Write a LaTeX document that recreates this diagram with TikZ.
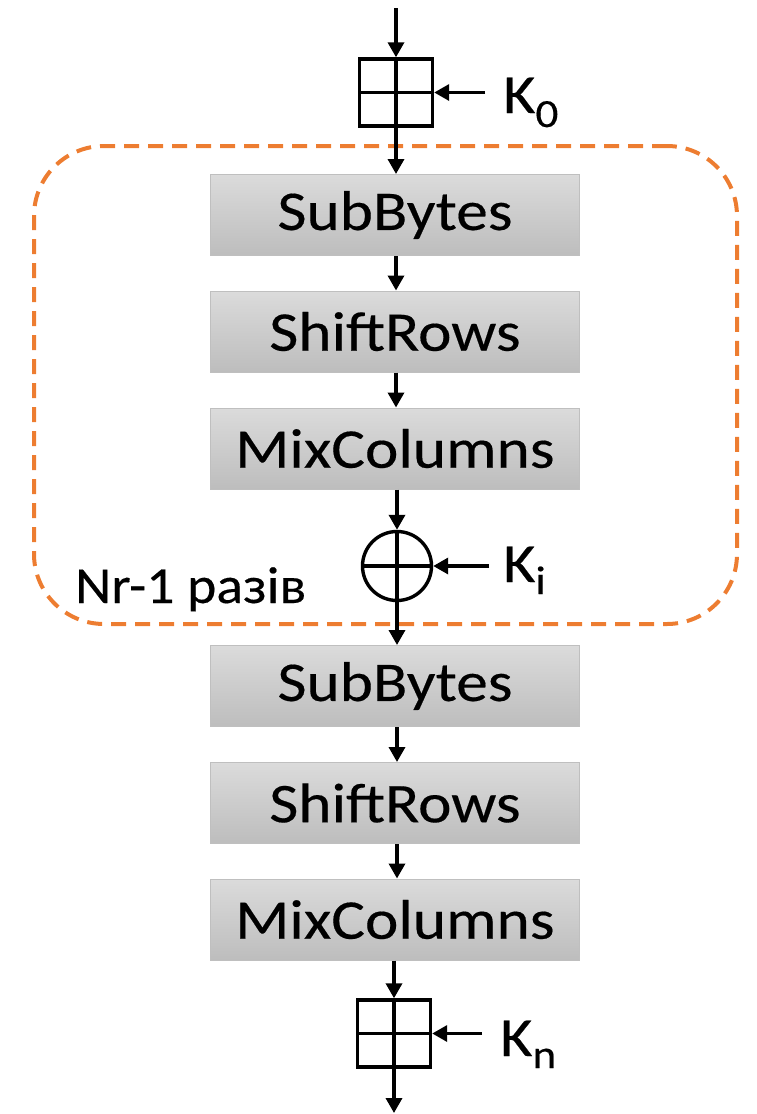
\documentclass[tikz,border=0pt]{standalone}
\usepackage{fontspec}
\setmainfont[FakeStretch=1.13,FakeBold=0.3]{Carlito}
\usetikzlibrary{arrows.meta}
\definecolor{acorange}{HTML}{ED7D31}
\definecolor{boxtop}{HTML}{DBDBDB}
\definecolor{boxbot}{HTML}{BDBDBD}
\definecolor{boxedge}{HTML}{BFBFBF}
\begin{document}
\begin{tikzpicture}[x=1pt,y=-1pt,
  stagebox/.style={draw=boxedge,line width=1pt,top color=boxtop,bottom color=boxbot,
    minimum width=369pt,minimum height=81pt,inner sep=0pt,
    font=\fontsize{56}{60}\selectfont},
  flow/.style={line width=3.4pt,-{Triangle[length=15pt,width=16pt]}},
  crossed/.style={path picture={\draw[line width=3.4pt]
    (path picture bounding box.north)--(path picture bounding box.south)
    (path picture bounding box.west)--(path picture bounding box.east);}},
  keybox/.style={draw,line width=3.4pt,minimum width=73pt,minimum height=67pt,inner sep=0pt,crossed},
  xorbox/.style={draw,circle,line width=3.4pt,minimum size=69pt,inner sep=0pt,crossed},
  biglabel/.style={anchor=base west,inner sep=0pt,font=\fontsize{55}{60}\selectfont},
]
\useasboundingbox (0,0) rectangle (756,1114);
% loop frame
\node (loop) [draw=acorange,line width=4pt,dash pattern=on 15pt off 9pt,
  rounded corners=70pt,minimum width=703pt,minimum height=478pt,inner sep=0pt]
  at (385.5,385) {};
\node[biglabel,font=\fontsize{52}{60}\selectfont] (rounds) at (75,603) {\scalebox{0.95}[1]{Nr-1 разів}};
% stages
\node[keybox] (key0) at (396,92.5) {};
\node[stagebox] (sb1) at (395,215) {SubBytes};
\node[stagebox] (sr1) at (395,331.5) {ShiftRows};
\node[stagebox] (mc1) at (395,448.5) {MixColumns};
\node[xorbox] (xor) at (397,566) {};
\node[stagebox] (sb2) at (395,686) {SubBytes};
\node[stagebox] (sr2) at (395,803) {ShiftRows};
\node[stagebox] (mc2) at (395,919.5) {MixColumns};
\node[keybox] (keyn) at (394,1033.5) {};
% key labels
\node[biglabel] (k0) at (503,113) {K\raisebox{-14pt}{\fontsize{40}{40}\selectfont 0}};
\node[biglabel] (ki) at (503,582) {K\raisebox{-12pt}{\fontsize{40}{40}\selectfont i}};
\node[biglabel] (kn) at (500,1056) {K\raisebox{-12pt}{\fontsize{40}{40}\selectfont n}};
\coordinate (in) at (396,8);
\coordinate (out) at (394,1113);
\coordinate (k0s) at (485,92.5);
\coordinate (kis) at (489,566);
\coordinate (kns) at (482,1033.5);
% connectors
\draw[flow] (in) -- (key0.north);
\draw[flow] (key0.south) -- (key0.south |- sb1.north);
\draw[flow] (sb1.south -| key0.south) -- (sr1.north -| key0.south);
\draw[flow] (sr1.south -| key0.south) -- (mc1.north -| key0.south);
\draw[flow] (mc1.south -| xor.north) -- (xor.north);
\draw[flow] (xor.south) -- (sb2.north -| xor.south);
\draw[flow] (sb2.south -| xor.south) -- (sr2.north -| xor.south);
\draw[flow] (sr2.south -| xor.south) -- (mc2.north -| xor.south);
\draw[flow] (mc2.south -| keyn.north) -- (keyn.north);
\draw[flow] (keyn.south) -- (out);
\draw[flow] (k0s) -- (key0.east);
\draw[flow] (kis) -- (xor.east);
\draw[flow] (kns) -- (keyn.east);
\end{tikzpicture}
\end{document}
